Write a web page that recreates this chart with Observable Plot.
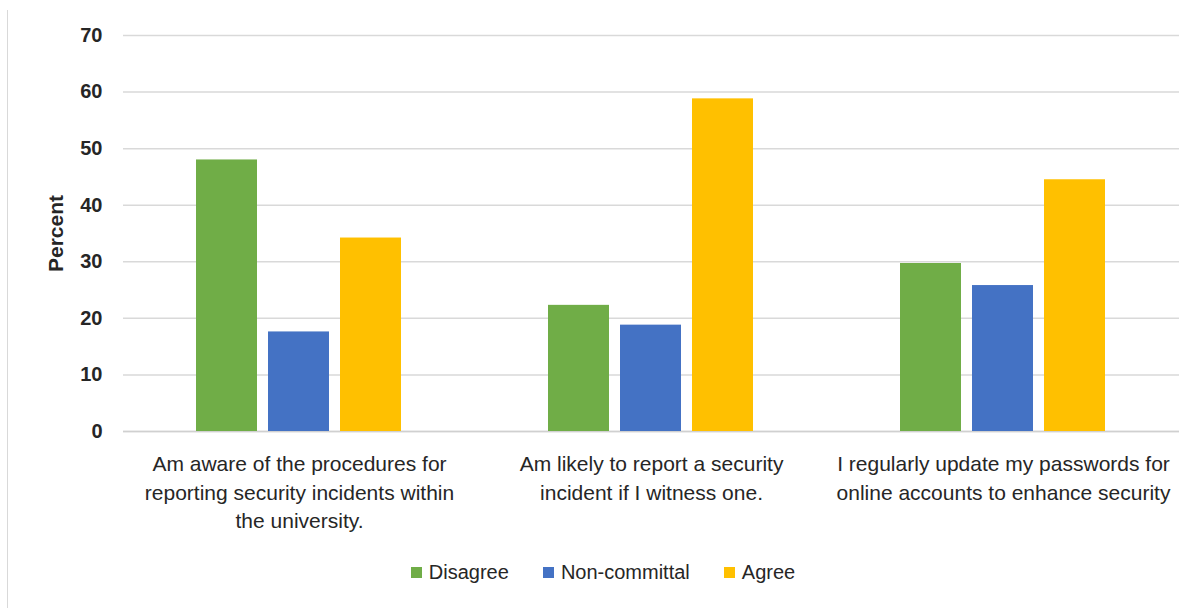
<!DOCTYPE html>
<html>
<head>
<meta charset="utf-8">
<script src="https://cdn.jsdelivr.net/npm/d3@7"></script>
<script src="https://cdn.jsdelivr.net/npm/@observablehq/plot@0.6"></script>
<style>
  body { margin: 0; background: #fff; font-family: "Liberation Sans", Arial, sans-serif; }
  #wrap { position: relative; width: 1202px; height: 608px; overflow: hidden; }
  #frame { position: absolute; left: 7px; top: 10px; width: 1px; height: 620px; background: #d9d9d9; }
  #chart { position: absolute; left: 0; top: 0; }
  #legend { position: absolute; top: 561px; left: 0; width: 1202px; display: flex; justify-content: center;
            padding-left: 4px; box-sizing: border-box; gap: 34px; font-size: 20px; color: #262626; }
  .item { display: flex; align-items: center; gap: 7px; }
  .sw { width: 11px; height: 11px; display: inline-block; }
</style>
</head>
<body>
<div id="wrap">
  <div id="frame"></div>
  <div id="chart"></div>
  <div id="legend"></div>
</div>
<script>
// Survey statements (one group of bars each)
const questions = [
  "Am aware of the procedures for reporting security incidents within the university.",
  "Am likely to report a security incident if I witness one.",
  "I regularly update my passwords for online accounts to enhance security"
];
// Axis labels, broken onto lines
const questionLabels = [
  "Am aware of the procedures for\nreporting security incidents within\nthe university.",
  "Am likely to report a security\nincident if I witness one.",
  "I regularly update my passwords for\nonline accounts to enhance security"
];
const responses = ["Disagree", "Non-committal", "Agree"];
const responseColors = ["#70AD47", "#4472C4", "#FFC000"];

// Percent of respondents, per statement
const disagree     = [48.0, 22.3, 29.7];
const noncommittal = [17.6, 18.8, 25.8];
const agree        = [34.2, 58.8, 44.5];

const yTicks = [0, 10, 20, 30, 40, 50, 60, 70];

const seriesValues = [disagree, noncommittal, agree];
const rows = [];
questions.forEach((q, i) => {
  responses.forEach((r, j) => rows.push({question: q, response: r, value: seriesValues[j][i]}));
});

const labelOf = new Map(questions.map((q, i) => [q, questionLabels[i]]));

const chart = Plot.plot({
  width: 1202,
  height: 545,
  marginLeft: 122,
  marginRight: 22,
  marginTop: 35,
  marginBottom: 114,
  style: {fontFamily: "'Liberation Sans', Arial, sans-serif", color: "#262626", background: "transparent"},
  fx: {domain: questions, padding: 0, axis: null},
  x: {domain: responses, paddingInner: 0.15, paddingOuter: 1.0, axis: null},
  y: {domain: [0, 70], axis: null},
  color: {domain: responses, range: responseColors},
  marks: [
    Plot.gridY(yTicks, {stroke: "#d9d9d9", strokeOpacity: 1, strokeWidth: 1.5}),
    Plot.ruleY([0], {stroke: "#d0d0d0", strokeWidth: 1.5}),
    Plot.barY(rows, {fx: "question", x: "response", y: "value", fill: "response"}),
    Plot.axisY(yTicks, {
      tickSize: 0, tickPadding: 21, fontSize: 20, fontWeight: "bold", label: null
    }),
    // axis title only
    Plot.axisY([], {
      tickSize: 0, fontSize: 21, fontWeight: "bold",
      label: "Percent", labelAnchor: "center", labelOffset: 75, labelArrow: "none"
    }),
    Plot.axisFx({
      anchor: "bottom", tickSize: 0, tickPadding: 19, fontSize: 21, lineHeight: 1.37,
      tickFormat: d => labelOf.get(d), label: null
    })
  ]
});
document.getElementById("chart").appendChild(chart);

// Legend
const legend = document.getElementById("legend");
responses.forEach((r, i) => {
  const item = document.createElement("div");
  item.className = "item";
  const sw = document.createElement("span");
  sw.className = "sw";
  sw.style.background = responseColors[i];
  const t = document.createElement("span");
  t.textContent = r;
  item.append(sw, t);
  legend.appendChild(item);
});
</script>
</body>
</html>
